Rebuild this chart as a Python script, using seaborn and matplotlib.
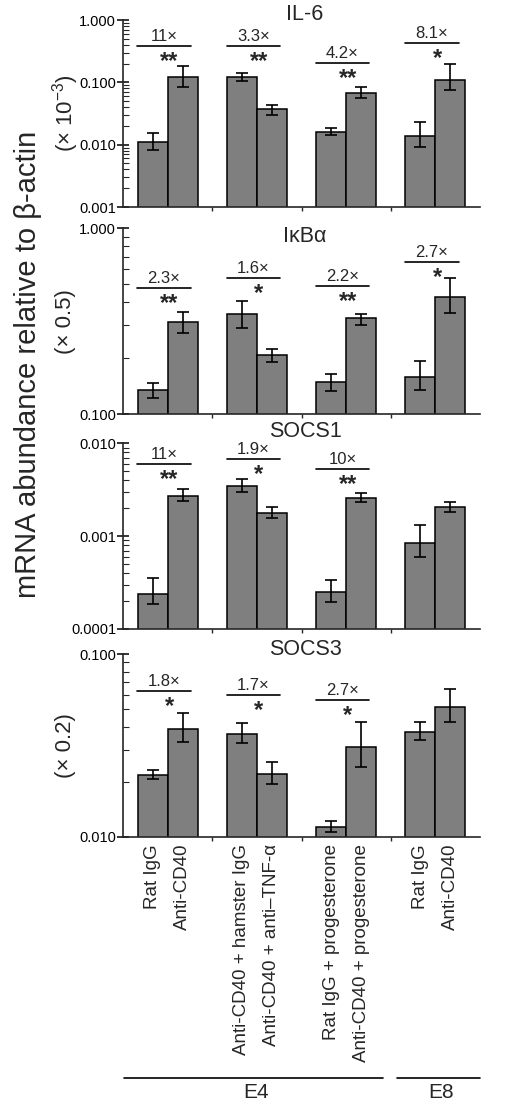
import numpy as np
import pandas as pd
import matplotlib
matplotlib.use("Agg")
import matplotlib.pyplot as plt
import matplotlib.transforms as mtransforms
from matplotlib.ticker import FixedLocator, LogLocator, NullFormatter
import seaborn as sns

# === Data ===
groups = ["G1", "G2", "G3", "G4"]
pair = ["first", "second"]
bar_labels = [
    "Rat IgG", "Anti-CD40",
    "Anti-CD40 + hamster IgG", "Anti-CD40 + anti\u2013TNF-\u03b1",
    "Rat IgG + progesterone", "Anti-CD40 + progesterone",
    "Rat IgG", "Anti-CD40",
]
stage_labels = ["E4", "E8"]

il6_mean = [0.011, 0.12, 0.12, 0.037, 0.016, 0.067, 0.014, 0.11]
il6_lo = [0.0082, 0.083, 0.105, 0.030, 0.0143, 0.056, 0.0093, 0.075]
il6_hi = [0.0153, 0.18, 0.14, 0.044, 0.0187, 0.085, 0.0234, 0.20]
il6_fold = ["11\u00d7", "3.3\u00d7", "4.2\u00d7", "8.1\u00d7"]
il6_stars = ["**", "**", "**", "*"]

ikba_mean = [0.135, 0.312, 0.344, 0.208, 0.148, 0.328, 0.159, 0.428]
ikba_lo = [0.122, 0.274, 0.292, 0.191, 0.133, 0.302, 0.134, 0.348]
ikba_hi = [0.147, 0.353, 0.406, 0.225, 0.164, 0.346, 0.193, 0.537]
ikba_fold = ["2.3\u00d7", "1.6\u00d7", "2.2\u00d7", "2.7\u00d7"]
ikba_stars = ["**", "*", "**", "*"]

socs1_mean = [0.00024, 0.00271, 0.0035, 0.00179, 0.000248, 0.00256, 0.000845, 0.00205]
socs1_lo = [0.000186, 0.00239, 0.00302, 0.00157, 0.000195, 0.00232, 0.000597, 0.00181]
socs1_hi = [0.000352, 0.00325, 0.0041, 0.00205, 0.000337, 0.0029, 0.00131, 0.00232]
socs1_fold = ["11\u00d7", "1.9\u00d7", "10\u00d7", ""]
socs1_stars = ["**", "*", "**", ""]

socs3_mean = [0.0217, 0.0388, 0.0364, 0.0221, 0.0114, 0.0312, 0.0376, 0.0515]
socs3_lo = [0.0207, 0.033, 0.0325, 0.0194, 0.0107, 0.0242, 0.0339, 0.0427]
socs3_hi = [0.0232, 0.0478, 0.0421, 0.0258, 0.0122, 0.0427, 0.0427, 0.0641]
socs3_fold = ["1.8\u00d7", "1.7\u00d7", "2.7\u00d7", ""]
socs3_stars = ["*", "*", "*", ""]

il6_ticks = [0.001, 0.01, 0.1, 1.0]
il6_ticklabels = ["0.001", "0.010", "0.100", "1.000"]
ikba_ticks = [0.1, 1.0]
ikba_ticklabels = ["0.100", "1.000"]
socs1_ticks = [0.0001, 0.001, 0.01]
socs1_ticklabels = ["0.0001", "0.001", "0.010"]
socs3_ticks = [0.01, 0.1]
socs3_ticklabels = ["0.010", "0.100"]

panels = [
    ("IL-6", "(\u00d7 10$^{\\mathregular{-3}}$)", il6_mean, il6_lo, il6_hi, il6_ticks, il6_ticklabels, il6_fold, il6_stars),
    ("I\u03baB\u03b1", "(\u00d7 0.5)", ikba_mean, ikba_lo, ikba_hi, ikba_ticks, ikba_ticklabels, ikba_fold, ikba_stars),
    ("SOCS1", "", socs1_mean, socs1_lo, socs1_hi, socs1_ticks, socs1_ticklabels, socs1_fold, socs1_stars),
    ("SOCS3", "(\u00d7 0.2)", socs3_mean, socs3_lo, socs3_hi, socs3_ticks, socs3_ticklabels, socs3_fold, socs3_stars),
]

# === Layout (pixels of the 526x1116 canvas) ===
W, H = 526, 1116
ax_left, ax_right = 123, 480
panel_px = [(20, 207), (228.3, 414), (443.3, 629), (654, 837)]
bracket_y = [
    [0.863, 0.863, 0.772, 0.879],
    [0.679, 0.731, 0.691, 0.817],
    [0.887, 0.915, 0.863, None],
    [0.798, 0.776, 0.747, None],
]
title_y = [1.027, 0.955, 1.062, 1.022]

sns.set_style("ticks")
plt.rcParams["font.family"] = ["Liberation Sans", "DejaVu Sans"]
plt.rcParams["mathtext.fontset"] = "custom"
plt.rcParams["mathtext.rm"] = "Liberation Sans"
plt.rcParams["axes.linewidth"] = 1.2

fig = plt.figure(figsize=(W / 100, H / 100), dpi=100)
gray = "#7f7f7f"

axes = []
for i, (title, scale_lab, mean, lo, hi, ticks, ticklabels, folds, stars) in enumerate(panels):
    top, bot = panel_px[i]
    ax = fig.add_axes([ax_left / W, 1 - bot / H, (ax_right - ax_left) / W, (bot - top) / H])
    axes.append(ax)

    df = pd.DataFrame({"group": np.repeat(groups, 2), "treat": pair * 4, "value": mean})
    sns.barplot(data=df, x="group", y="value", hue="treat", order=groups, hue_order=pair,
                palette=[gray, gray], saturation=1, width=0.67, errorbar=None,
                edgecolor="black", linewidth=1.1, legend=False, ax=ax)
    ax.set_yscale("log", nonpositive="clip")

    bars = sorted(ax.patches, key=lambda p: p.get_x())
    centers = [p.get_x() + p.get_width() / 2 for p in bars]
    mean_a = np.array(mean)
    yerr = [mean_a - np.array(lo), np.array(hi) - mean_a]
    ax.errorbar(centers, mean_a, yerr=yerr, fmt="none", ecolor="black",
                elinewidth=1.2, capsize=4, capthick=1.2)

    ax.set_xlim(-0.5, 3.5)
    ax.set_ylim(ticks[0], ticks[-1])
    ax.yaxis.set_major_locator(FixedLocator(ticks))
    ax.set_yticklabels(ticklabels)
    ax.yaxis.set_minor_locator(LogLocator(base=10, subs=np.arange(2, 10)))
    ax.yaxis.set_minor_formatter(NullFormatter())
    ax.tick_params(axis="y", which="major", direction="inout", length=8, width=1.1,
                   labelsize=10.5, pad=1, colors="black")
    ax.tick_params(axis="y", which="minor", direction="in", length=4, width=0.8)

    ax.set_xticks([0.5, 1.5, 2.5], minor=True)
    ax.tick_params(axis="x", which="minor", direction="out", length=3, width=1.0)
    if i == len(panels) - 1:
        ax.set_xticks(centers)
        ax.set_xticklabels(bar_labels, rotation=90, fontsize=13.5, va="top", ha="center")
        ax.tick_params(axis="x", which="major", length=0, pad=5)
    else:
        ax.set_xticks([])

    ax.set_xlabel("")
    ax.set_ylabel("")
    sns.despine(ax=ax)

    ax.text(0.51, title_y[i], title, transform=ax.transAxes, ha="center", va="center", fontsize=15.5)
    if scale_lab:
        ax.text(-0.162, 0.5, scale_lab, transform=ax.transAxes, rotation=90,
                ha="center", va="center", fontsize=16)

    trans = mtransforms.blended_transform_factory(ax.transData, ax.transAxes)
    for g in range(len(groups)):
        yb = bracket_y[i][g]
        if yb is None or not folds[g]:
            continue
        ax.plot([g - 0.34, g + 0.26], [yb, yb], color="black", lw=1.2, transform=trans, clip_on=False)
        ax.annotate(folds[g], (g - 0.04, yb), xycoords=trans, xytext=(0, 1.5),
                    textcoords="offset points", ha="center", va="bottom", fontsize=12)
        ax.annotate(stars[g], (g + 0.02, yb), xycoords=trans, xytext=(0, -3),
                    textcoords="offset points", ha="center", va="top",
                    fontsize=17, fontweight="bold")

fig.text(28 / W, 1 - 364 / H, "mRNA abundance relative to \u03b2-actin", rotation=90,
         ha="center", va="center", fontsize=21)

# Stage brackets under the bottom panel
ax = axes[-1]
trans = mtransforms.blended_transform_factory(ax.transData, fig.transFigure)
line_y = 1 - 1078 / H
for (x0, x1), lab in zip([(-0.49, 2.41), (2.57, 3.5)], stage_labels):
    ax.plot([x0, x1], [line_y, line_y], color="black", lw=1.2, transform=trans, clip_on=False)
    ax.text((x0 + x1) / 2 + 0.03, 1 - 1093 / H, lab, transform=trans, ha="center",
            va="center", fontsize=15)

fig.savefig("out.png", dpi=100)
